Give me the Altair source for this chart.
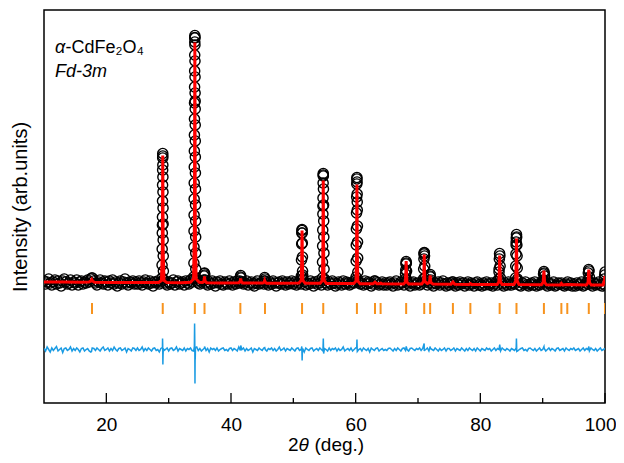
import altair as alt
import pandas as pd

# ---------------- data ----------------
# Bragg reflection positions of Fd-3m CdFe2O4 (2theta, deg.)
bragg_pos = [17.70, 29.05, 34.20, 35.75, 41.50, 45.45, 51.40, 54.80, 60.20, 63.10, 64.00,
             68.10, 71.00, 71.95, 75.60, 78.40, 83.10, 85.80, 90.20, 93.00, 93.95, 97.40, 100.0]

major_ticks = [20, 40, 60, 80, 100]
minor_ticks = [30, 50, 70, 90]

# observed intensity in the background, one reading every 0.25 deg from 10 to 100
obs_bg_start, obs_bg_step = 10.0, 0.25
obs_bg_y = [
    122, 119, 121, 124, 120, 118, 121, 123, 119, 122, 120, 117, 122, 124, 121, 119, 120, 123, 118, 121,
    120, 123, 118, 121, 122, 119, 121, 120, 123, 121, 124, 125, 122, 120, 118, 121, 123, 120, 119, 122,
    121, 118, 122, 120, 123, 119, 121, 117, 120, 122, 119, 121, 124, 120, 118, 121, 120, 122, 119, 121,
    119, 122, 120, 118, 121, 123, 120, 119, 122, 120, 117, 121, 120, 122, 119, 121, 178, 123, 120, 118,
    121, 119, 120, 123, 118, 121, 122, 119, 120, 121, 118, 122, 120, 119, 123, 121, 126, 302, 122, 120,
    119, 121, 122, 130, 120, 118, 121, 119, 122, 120, 117, 121, 120, 122, 119, 118, 121, 120, 119, 122,
    120, 118, 121, 119, 122, 120, 126, 121, 119, 120, 122, 118, 120, 121, 119, 117, 120, 122, 119, 120,
    121, 119, 122, 120, 118, 121, 119, 122, 120, 117, 120, 121, 119, 122, 120, 118, 121, 119, 120, 122,
    119, 121, 118, 120, 122, 119, 128, 121, 118, 120, 119, 122, 120, 117, 121, 119, 122, 120, 118, 197,
    124, 120, 118, 121, 119, 122, 120, 117, 119, 121, 120, 118, 122, 119, 121, 120, 118, 119, 121, 120,
    123, 201, 121, 119, 120, 118, 122, 119, 121, 120, 117, 119, 122, 121, 120, 118, 119, 121, 118, 120,
    118, 120, 121, 119, 117, 120, 122, 118, 119, 121, 120, 118, 129, 121, 119, 117, 120, 121, 118, 119,
    120, 118, 119, 121, 150, 122, 118, 120, 126, 119, 117, 120, 119, 121, 118, 120, 122, 119, 117, 120,
    118, 120, 121, 119, 117, 120, 118, 121, 119, 120, 117, 119, 121, 118, 120, 119, 117, 120, 121, 118,
    119, 117, 120, 118, 121, 119, 118, 120, 117, 119, 121, 118, 131, 121, 119, 117, 120, 118, 121, 119,
    118, 120, 119, 161, 122, 118, 117, 120, 119, 121, 118, 117, 119, 120, 118, 121, 117, 119, 118, 120,
    121, 130, 119, 117, 120, 118, 119, 121, 117, 118, 120, 119, 120, 118, 117, 119, 121, 118, 120, 117,
    119, 117, 120, 118, 119, 121, 117, 118, 120, 119, 126, 119, 117, 120, 118, 119, 121, 118, 117, 119,
    131,
]

# observed points on the Bragg peaks (2theta, intensity)
obs_peak = [
    (17.66, 125),
    (28.92, 125), (28.94, 138), (28.96, 154), (28.98, 170), (29.005, 186), (29.015, 202), (29.025, 218),
    (29.035, 233), (29.045, 245), (29.05, 249.5), (29.055, 247), (29.065, 238), (29.075, 226), (29.085, 211),
    (29.095, 195), (29.105, 179), (29.115, 163), (29.13, 147), (29.15, 132), (29.17, 123),
    (34.04, 124), (34.05, 140), (34.06, 156), (34.07, 172), (34.08, 188), (34.09, 204), (34.10, 220),
    (34.11, 236), (34.12, 252), (34.13, 268), (34.14, 284), (34.15, 300), (34.16, 316), (34.17, 332),
    (34.18, 348), (34.19, 361), (34.195, 365), (34.20, 367.5), (34.205, 365.5), (34.21, 358), (34.22, 342),
    (34.23, 326), (34.24, 310), (34.255, 294), (34.26, 278), (34.27, 262), (34.28, 246), (34.29, 230),
    (34.30, 214), (34.31, 198), (34.32, 182), (34.33, 166), (34.34, 150), (34.35, 134), (34.37, 125),
    (35.62, 123), (35.68, 127), (35.72, 129.5), (35.80, 128), (35.86, 123),
    (41.42, 122), (41.55, 127.5), (41.62, 125), (41.70, 121),
    (45.30, 122), (45.40, 125.5), (45.46, 124),
    (51.28, 127), (51.31, 143), (51.34, 159), (51.37, 170), (51.39, 172.5), (51.40, 173.5), (51.42, 170),
    (51.44, 160), (51.46, 146), (51.48, 132), (51.52, 124),
    (54.66, 125), (54.68, 141), (54.70, 157), (54.72, 173), (54.74, 189), (54.76, 205), (54.78, 220),
    (54.795, 228), (54.80, 229.5), (54.81, 227), (54.83, 214), (54.85, 198), (54.87, 182), (54.89, 166),
    (54.91, 150), (54.93, 134), (54.96, 123),
    (60.06, 126), (60.08, 142), (60.10, 158), (60.12, 174), (60.14, 190), (60.16, 206), (60.18, 219),
    (60.195, 224), (60.20, 225.5), (60.22, 221), (60.24, 209), (60.26, 193), (60.28, 177), (60.30, 161),
    (60.32, 145), (60.34, 131), (60.37, 122),
    (63.10, 122),
    (67.98, 124), (68.03, 133), (68.07, 139), (68.10, 141.5), (68.13, 140), (68.17, 132), (68.22, 123),
    (70.86, 124), (70.91, 134), (70.95, 144), (70.98, 149), (71.01, 150.5), (71.04, 147), (71.08, 137),
    (71.13, 125),
    (71.86, 122), (71.92, 127), (71.97, 128.5), (72.04, 123),
    (75.62, 121),
    (82.96, 124), (83.01, 134), (83.05, 144), (83.09, 149.5), (83.13, 147), (83.17, 137), (83.22, 125),
    (85.64, 125), (85.68, 137), (85.71, 149), (85.74, 158), (85.77, 165), (85.80, 168.5), (85.83, 166),
    (85.86, 158), (85.89, 147), (85.92, 135), (85.96, 124),
    (90.08, 123), (90.14, 129), (90.20, 131.5), (90.30, 127), (90.36, 121),
    (97.26, 123), (97.32, 130), (97.38, 133.5), (97.44, 132), (97.56, 121),
    (99.88, 124), (99.95, 128),
]

# calculated (Rietveld) profile (2theta, intensity)
calc_pts = [
    (10.0, 121), (13.0, 120.9), (16.0, 120.8), (17.2, 120.9), (17.5, 121.8), (17.66, 123.5), (17.82, 121.8),
    (18.1, 120.8), (21.0, 120.6), (25.0, 120.4), (28.4, 120.5), (28.85, 122.5), (28.98, 152), (29.05, 247.5),
    (29.12, 152), (29.25, 122.5), (29.7, 120.4), (32.0, 120.3), (33.5, 120.7), (34.0, 124), (34.13, 180),
    (34.2, 360.5), (34.27, 180), (34.4, 124), (34.9, 120.8), (35.45, 120.6), (35.67, 121.8), (35.75, 126.5),
    (35.83, 121.8), (36.1, 120.3), (38.5, 120.1), (41.2, 120.2), (41.45, 121.2), (41.55, 124.5),
    (41.65, 121.2), (41.9, 120), (45.1, 119.9), (45.3, 120.7), (45.4, 122.5), (45.5, 120.7), (45.7, 119.8),
    (48.0, 119.7), (50.9, 119.9), (51.27, 122.5), (51.34, 141), (51.4, 172.5), (51.46, 141), (51.53, 122.5),
    (51.9, 119.7), (54.3, 119.8), (54.66, 122.5), (54.74, 152), (54.8, 222.5), (54.86, 152), (54.94, 122.5),
    (55.3, 119.6), (57.5, 119.4), (59.7, 119.6), (60.06, 122), (60.14, 150), (60.2, 218.5), (60.26, 150),
    (60.34, 122), (60.7, 119.3), (62.8, 119.3), (63.1, 120.8), (63.4, 119.3), (63.8, 119.3), (64.0, 119.8),
    (64.2, 119.3), (67.7, 119.1), (67.98, 121), (68.05, 131), (68.1, 142), (68.15, 131), (68.22, 121),
    (68.5, 119), (70.6, 119), (70.9, 121.5), (70.96, 134), (71.0, 148.5), (71.04, 134), (71.1, 121.5),
    (71.5, 119.6), (71.85, 120.6), (71.95, 127.5), (72.05, 120.6), (72.4, 118.9), (75.3, 118.8), (75.6, 121),
    (75.9, 118.7), (78.2, 118.6), (78.4, 119.4), (78.6, 118.6), (82.7, 118.5), (82.98, 121.3), (83.05, 134),
    (83.1, 147.5), (83.15, 134), (83.22, 121.3), (83.5, 118.5), (85.4, 118.6), (85.68, 122), (85.75, 142),
    (85.8, 164.5), (85.85, 142), (85.92, 122), (86.2, 118.4), (89.8, 118.3), (90.08, 120.5), (90.2, 132.5),
    (90.32, 120.5), (90.6, 118.2), (92.8, 118.1), (93.0, 119.6), (93.2, 118.1), (93.94, 118.5), (97.0, 118),
    (97.28, 120.5), (97.4, 133.5), (97.52, 120.5), (97.8, 118), (99.7, 118), (99.92, 123.5), (100.0, 127),
]

# difference (obs - calc), background readings every 0.25 deg from 10 to 100
diff_bg_y = [
    1, -1.5, 2.5, 0, -2.5, 1.5, -1, 1, 3, -1.5, 0, 1.5, -3, 1, 1.5, -1, 0, 2.5, -1.5, 1,
    -1, 1.5, 0, -2.5, 1, 1.5, -1.5, 0, 1, -1.5, -2.5, 1.5, 1, -1, 1.5, 0, -1.5, 1, 2.5, -1,
    0, 1.5, -1.5, 1, -1, 2.5, 0, -1.5, 1, 1.5, -1, 0, 1.5, -2.5, 1, 0, -1.5, 1.5, 1, -1,
    1.5, -1, 0, 2.5, -1.5, 1, -1, 1.5, 0, -1.5, 1, 1.5, -1, 0, -2.5, 1, 1.5, -1, 0, 1.5,
    -1.5, 1, 1.5, -1, 0, 2.5, -1.5, 1, 0, -1, 1.5, -1.5, 1, 0, 1.5, -1, -1.5, 1, 2.5, -1,
    1, -1.5, 0, 1.5, -1, 1, -2.5, 1.5, 0, 1, -1, 1.5, -1.5, 0, 1, 1.5, -1, 0, -1.5, 1,
    1.5, -1, 1, 0, -1.5, 2.5, -1, 0, 1.5, -1.5, 1, -1, 0, 1.5, -2.5, 1, 0, -1, 1.5, 0,
    -1, 1.5, 0, -1.5, 1, 0, 1.5, -1, 1, -1.5, 0, 2.5, -1, 0, 1.5, -1.5, 1, 0, -1, 1.5,
    0, -1.5, 1, 1.5, -1, 0, 1, -2.5, 1.5, 0, -1, 1, 1.5, -1.5, 0, 1, -1, 1.5, 0, -1.5,
    1, 0, -1.5, 1.5, -1, 1, 0, 1.5, -1.5, 1, -1, 0, 2.5, -1.5, 0, 1, -1, 1.5, -1.5, 0,
    1.5, -1, 0, 1, -1.5, 1.5, 0, -1, 1, -2.5, 1.5, 0, -1, 1, 1.5, -1.5, 0, 1, -1, 0,
    -1, 1, 1.5, 0, -1.5, 1, -1, 1.5, 0, -1.5, 1, 1.5, -1, 0, -1.5, 1, 1.5, 0, -1, 1,
    0, 1.5, -1, 1, -1.5, 0, 1.5, -1.5, 1, 0, -1, 1.5, 0, -1.5, 1, -1, 0, 1.5, -1.5, 1,
    1, -1, 0, 1.5, -1.5, 1, 0, -1, 1.5, 0, -1.5, 1, -1, 1.5, 0, -1, 1, -1.5, 1.5, 0,
    -1.5, 1, 0, -1, 1.5, 0, 1, -1.5, 0, 1.5, -1, 1, 0, -1.5, 1.5, 0, -1, 1, 0, -1.5,
    1, 0, -1, 1.5, -1.5, 0, 1, 1.5, -1, 0, -1.5, 1, 1.5, 0, -1, 1, -1.5, 0, 1.5, -1,
    0, 1, -1.5, 0, 1.5, -1, 1, 0, -1.5, 1, 1.5, -1, 0, 1, -1.5, 1.5, 0, -1, 1, 0,
    1.5, -1, 0, 1, -1.5, 0, 1.5, -1, 1, 0, -1.5, 1.5, 0, -1, 1, -1.5, 0, 1.5, -1, 0,
    1,
]

# difference at the Bragg peaks (2theta, obs - calc)
diff_peak = [
    (17.62, -2), (17.72, 1.5),
    (28.99, 2), (29.02, 11), (29.045, 4), (29.07, -15), (29.10, -6), (29.14, 1),
    (34.12, 3), (34.16, 26), (34.19, 8), (34.22, -34), (34.26, -10), (34.30, 2),
    (35.76, 3), (41.56, 4), (45.41, 2),
    (51.36, 3), (51.41, -11), (51.45, -3),
    (54.77, 3), (54.81, 11), (54.86, -4),
    (60.17, 2), (60.21, 10), (60.26, -2),
    (68.11, 3), (70.99, 6), (71.04, -1), (71.96, 3),
    (83.11, 5), (85.79, 11), (85.85, -2), (90.21, 3), (97.41, 3),
]
diff_offset = 53.5  # the difference curve is drawn shifted below the pattern

# text
sample_greek = "α"
sample_formula = "-CdFe₂O₄"
space_group = "Fd-3m"
y_title = "Intensity (arb.units)"
x_title_parts = ["2", "θ", "(deg.)"]

# ---------------- tables ----------------
obs_df = pd.DataFrame({
    "x": [obs_bg_start + obs_bg_step * i for i in range(len(obs_bg_y))] + [p[0] for p in obs_peak],
    "y": obs_bg_y + [p[1] for p in obs_peak],
})
calc_df = pd.DataFrame({"x": [p[0] for p in calc_pts], "y": [p[1] for p in calc_pts]}).sort_values("x")
diff_df = pd.DataFrame({
    "x": [obs_bg_start + obs_bg_step * i for i in range(len(diff_bg_y))] + [p[0] for p in diff_peak],
    "d": diff_bg_y + [p[1] for p in diff_peak],
}).sort_values("x")
bragg_df = pd.DataFrame({"x": bragg_pos})

# ---------------- chart ----------------
FONT = "Liberation Sans"
W, H = 561, 393
RED, BLUE, ORANGE = "#ff0000", "#1a9be3", "#f7931e"

xs = alt.Scale(domain=[10, 100], nice=False, zero=False)
ys = alt.Scale(domain=[0, 393], nice=False, zero=False)
x_axis = alt.Axis(values=major_ticks, ticks=False, tickSize=0, domain=False, grid=False,
                  labelFont=FONT, labelFontSize=19, labelColor="black", labelPadding=12,
                  labelFlush=True, labelFlushOffset=11, labelOverlap=False, title=None)
y_axis = alt.Axis(labels=False, ticks=False, tickSize=0, domain=False, grid=False,
                  title=y_title, titleFont=FONT, titleFontSize=20, titleFontWeight="normal",
                  titleColor="black", titlePadding=14)

X = alt.X("x:Q", scale=xs, axis=x_axis)

obs = alt.Chart(obs_df).mark_point(shape="circle", filled=False, size=104, color="black",
                                   strokeWidth=1.4, opacity=1, clip=True).encode(
    x=X, y=alt.Y("y:Q", scale=ys, axis=y_axis))

calc = alt.Chart(calc_df).mark_line(color=RED, strokeWidth=3, clip=True).encode(
    x=X, y=alt.Y("y:Q", scale=ys, axis=y_axis))

bragg = alt.Chart(bragg_df).mark_rule(color=ORANGE, strokeWidth=2, clip=True).encode(
    x=X, y=alt.datum(100), y2=alt.datum(89))

diff = alt.Chart(diff_df).transform_calculate(yd=f"datum.d + {diff_offset}").mark_line(
    color=BLUE, strokeWidth=1.5, clip=True).encode(
    x=X, y=alt.Y("yd:Q", scale=ys, axis=y_axis))

major = alt.Chart(pd.DataFrame({"x": major_ticks})).mark_rule(color="black", strokeWidth=1.3).encode(
    x=X, y=alt.value(H), y2=alt.value(H - 10))
minor = alt.Chart(pd.DataFrame({"x": minor_ticks})).mark_rule(color="black", strokeWidth=1.3).encode(
    x=X, y=alt.value(H), y2=alt.value(H - 5))


def label(text, px, py, italic=False, size=18):
    return alt.Chart(pd.DataFrame({"t": [text]})).mark_text(
        align="left", baseline="alphabetic", font=FONT, fontSize=size,
        fontStyle="italic" if italic else "normal", color="black").encode(
        x=alt.value(px), y=alt.value(py), text="t:N")


texts = [
    label(sample_greek, 11, 43, italic=True),
    label(sample_formula, 21.4, 43),
    label(space_group, 11, 67, italic=True),
    label(x_title_parts[0], 244, 441, size=19),
    label(x_title_parts[1], 254.6, 441, italic=True, size=19),
    label(x_title_parts[2], 270.5, 441, size=19),
]

chart = alt.layer(obs, calc, bragg, diff, major, minor, *texts).properties(
    width=W, height=H,
    padding={"left": 36, "top": 2, "right": 11, "bottom": 52},
    autosize=alt.AutoSizeParams(type="none"),
).configure(font=FONT).configure_view(stroke="black", strokeWidth=1.5)

chart.save("out.html", embed_options={"renderer": "svg", "actions": False})
